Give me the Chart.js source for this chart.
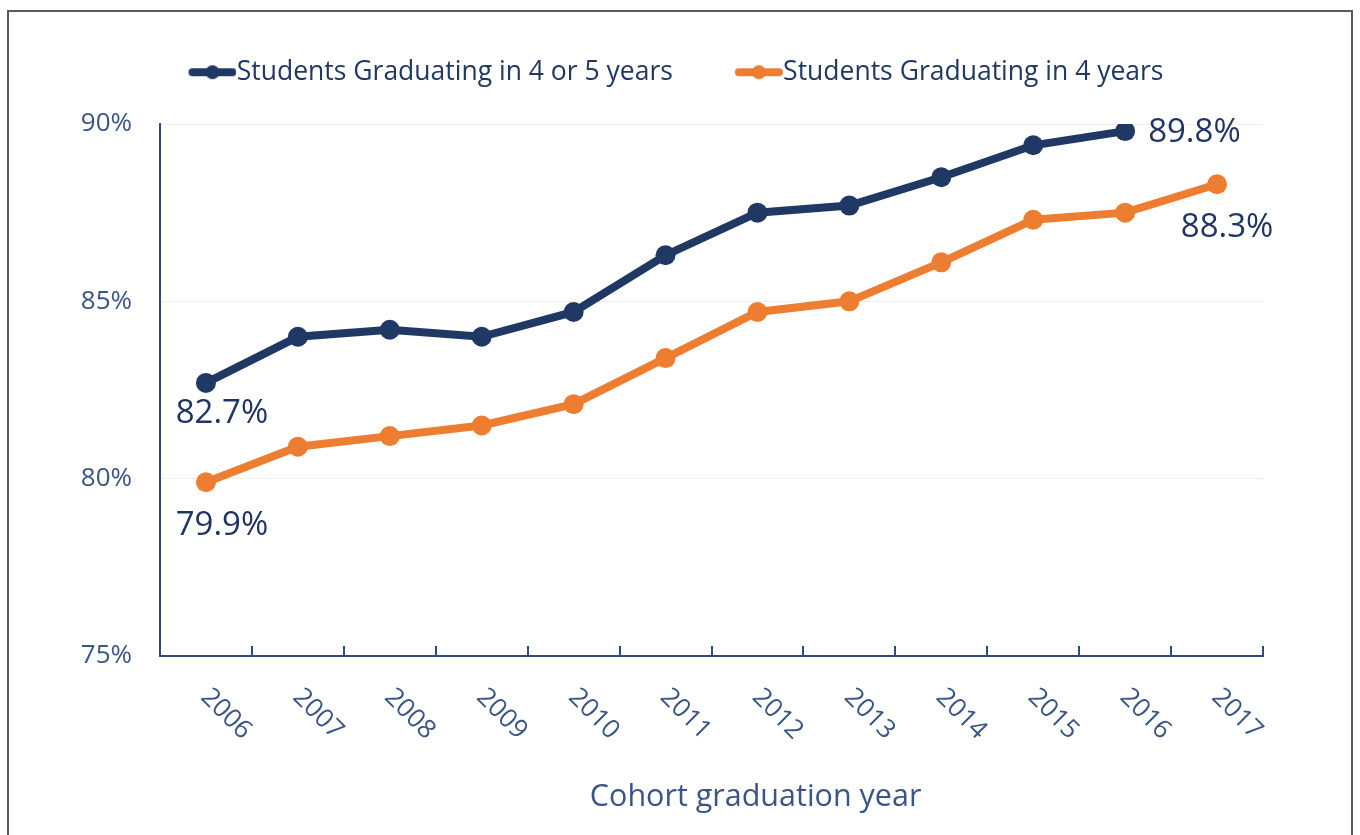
<!DOCTYPE html>
<html>
<head>
<meta charset="utf-8">
<script src="https://cdn.jsdelivr.net/npm/chart.js@4.4.0/dist/chart.umd.min.js"></script>
<style>
  html, body { margin: 0; padding: 0; background: #fff; }
  #wrap { position: relative; width: 1360px; height: 835px; overflow: hidden; }
  #frame { position: absolute; left: 7px; top: 10px; width: 1346px; height: 840px;
           border: 2px solid #5a5a5a; box-sizing: border-box; pointer-events: none; }
  canvas { position: absolute; left: 0; top: 0; }
</style>
</head>
<body>
<div id="wrap">
  <canvas id="grafico" width="1360" height="835"></canvas>
  <div id="frame"></div>
</div>
<script>
const years = ['2006', '2007', '2008', '2009', '2010', '2011', '2012', '2013', '2014', '2015', '2016', '2017'];
const fourOrFive = [82.7, 84.0, 84.2, 84.0, 84.7, 86.3, 87.5, 87.7, 88.5, 89.4, 89.8, null];
const fourYears = [79.9, 80.9, 81.2, 81.5, 82.1, 83.4, 84.7, 85.0, 86.1, 87.3, 87.5, 88.3];
const seriesNames = ['Students Graduating in 4 or 5 years', 'Students Graduating in 4 years'];
const yTicks = [75, 80, 85, 90];
const axisTitle = 'Cohort graduation year';

const navy = '#203864';
const orange = '#ed7d31';
const axisColor = '#2f4b7c';
const tickColor = '#3b5686';
const font = '"Open Sans", "Noto Sans", sans-serif';

// end labels: which point, and where the text sits relative to it
const endLabels = [
    { ds: 0, i: 0, dx: 16, dy: 31, align: 'center' },
    { ds: 1, i: 0, dx: 16, dy: 43, align: 'center' },
    { ds: 0, i: 10, dx: 23, dy: 2, align: 'left' },
    { ds: 1, i: 11, dx: 10, dy: 43, align: 'center' }
];

function legendIcon(color) {
    const c = document.createElement('canvas');
    c.width = 64; c.height = 18;
    const g = c.getContext('2d');
    g.strokeStyle = color;
    g.lineWidth = 8;
    g.lineCap = 'round';
    g.beginPath(); g.moveTo(20, 9); g.lineTo(60, 9); g.stroke();
    g.fillStyle = color;
    g.beginPath(); g.arc(40, 9, 7, 0, Math.PI * 2); g.fill();
    return c;
}
const icons = [legendIcon(navy), legendIcon(orange)];

const extras = {
    id: 'extras',
    afterDraw(chart) {
        const ctx = chart.ctx;
        const xs = chart.scales.x;
        ctx.save();
        // rotated year labels
        ctx.fillStyle = tickColor;
        ctx.font = '26px ' + font;
        ctx.textAlign = 'left';
        ctx.textBaseline = 'middle';
        years.forEach((y, i) => {
            ctx.save();
            ctx.translate(xs.getPixelForTick(i) - 1, xs.top + 37);
            ctx.rotate(Math.PI / 4);
            ctx.fillText(y, 0, 0);
            ctx.restore();
        });
        // axis title
        ctx.font = '30.5px ' + font;
        ctx.textAlign = 'center';
        ctx.fillText(axisTitle, xs.left + xs.width * 0.54, xs.top + 141);
        // end-point value labels
        ctx.fillStyle = '#1f3564';
        ctx.font = '33px ' + font;
        ctx.textBaseline = 'middle';
        endLabels.forEach(l => {
            const p = chart.getDatasetMeta(l.ds).data[l.i];
            const v = chart.data.datasets[l.ds].data[l.i];
            ctx.textAlign = l.align;
            ctx.fillText(v.toFixed(1) + '%', p.x + l.dx, p.y + l.dy);
        });
        ctx.restore();
    }
};

const ctx = document.getElementById('grafico').getContext('2d');
new Chart(ctx, {
    type: 'line',
    data: {
        labels: years,
        datasets: [{
            label: seriesNames[0],
            data: fourOrFive,
            borderColor: navy,
            backgroundColor: navy,
            borderWidth: 8,
            pointRadius: 10,
            pointBorderWidth: 0,
            pointBackgroundColor: navy,
            tension: 0
        }, {
            label: seriesNames[1],
            data: fourYears,
            borderColor: orange,
            backgroundColor: orange,
            borderWidth: 8,
            pointRadius: 10,
            pointBorderWidth: 0,
            pointBackgroundColor: orange,
            tension: 0
        }]
    },
    options: {
        responsive: false,
        animation: false,
        devicePixelRatio: 1,
        layout: { padding: { top: 0, right: 11, bottom: 0, left: 0 } },
        plugins: {
            tooltip: { enabled: false },
            legend: {
                position: 'top',
                labels: {
                    usePointStyle: true,
                    pointStyleWidth: 38,
                    padding: 59,
                    color: navy,
                    font: { family: font, size: 26.5 },
                    generateLabels(chart) {
                        const items = Chart.defaults.plugins.legend.labels.generateLabels(chart);
                        items.forEach((it, i) => { it.pointStyle = icons[i]; });
                        return items;
                    }
                }
            }
        },
        scales: {
            x: {
                type: 'category',
                position: 'bottom',
                offset: true,
                afterFit(s) { s.height = 179; },
                ticks: { display: false },
                grid: {
                    offset: true,
                    drawOnChartArea: false,
                    drawTicks: true,
                    tickLength: -10,
                    color: axisColor,
                    lineWidth: 2
                },
                border: { color: axisColor, width: 2 }
            },
            topGap: {
                type: 'category',
                position: 'top',
                afterFit(s) { s.height = 28.5; },
                ticks: { display: false },
                grid: { display: false },
                border: { display: false }
            },
            y: {
                position: 'left',
                min: 75,
                max: 90,
                afterFit(s) { s.width = 160; },
                afterBuildTicks(s) { s.ticks = yTicks.map(v => ({ value: v })); },
                ticks: {
                    padding: 28,
                    color: tickColor,
                    font: { family: font, size: 26 },
                    callback: v => v + '%'
                },
                grid: { color: '#efefef', lineWidth: 1, drawTicks: false },
                border: { color: axisColor, width: 2 }
            },
            rightGap: {
                type: 'linear',
                position: 'right',
                afterFit(s) { s.width = 86; },
                ticks: { display: false },
                grid: { display: false },
                border: { display: false }
            }
        }
    },
    plugins: [extras]
});
</script>
</body>
</html>
